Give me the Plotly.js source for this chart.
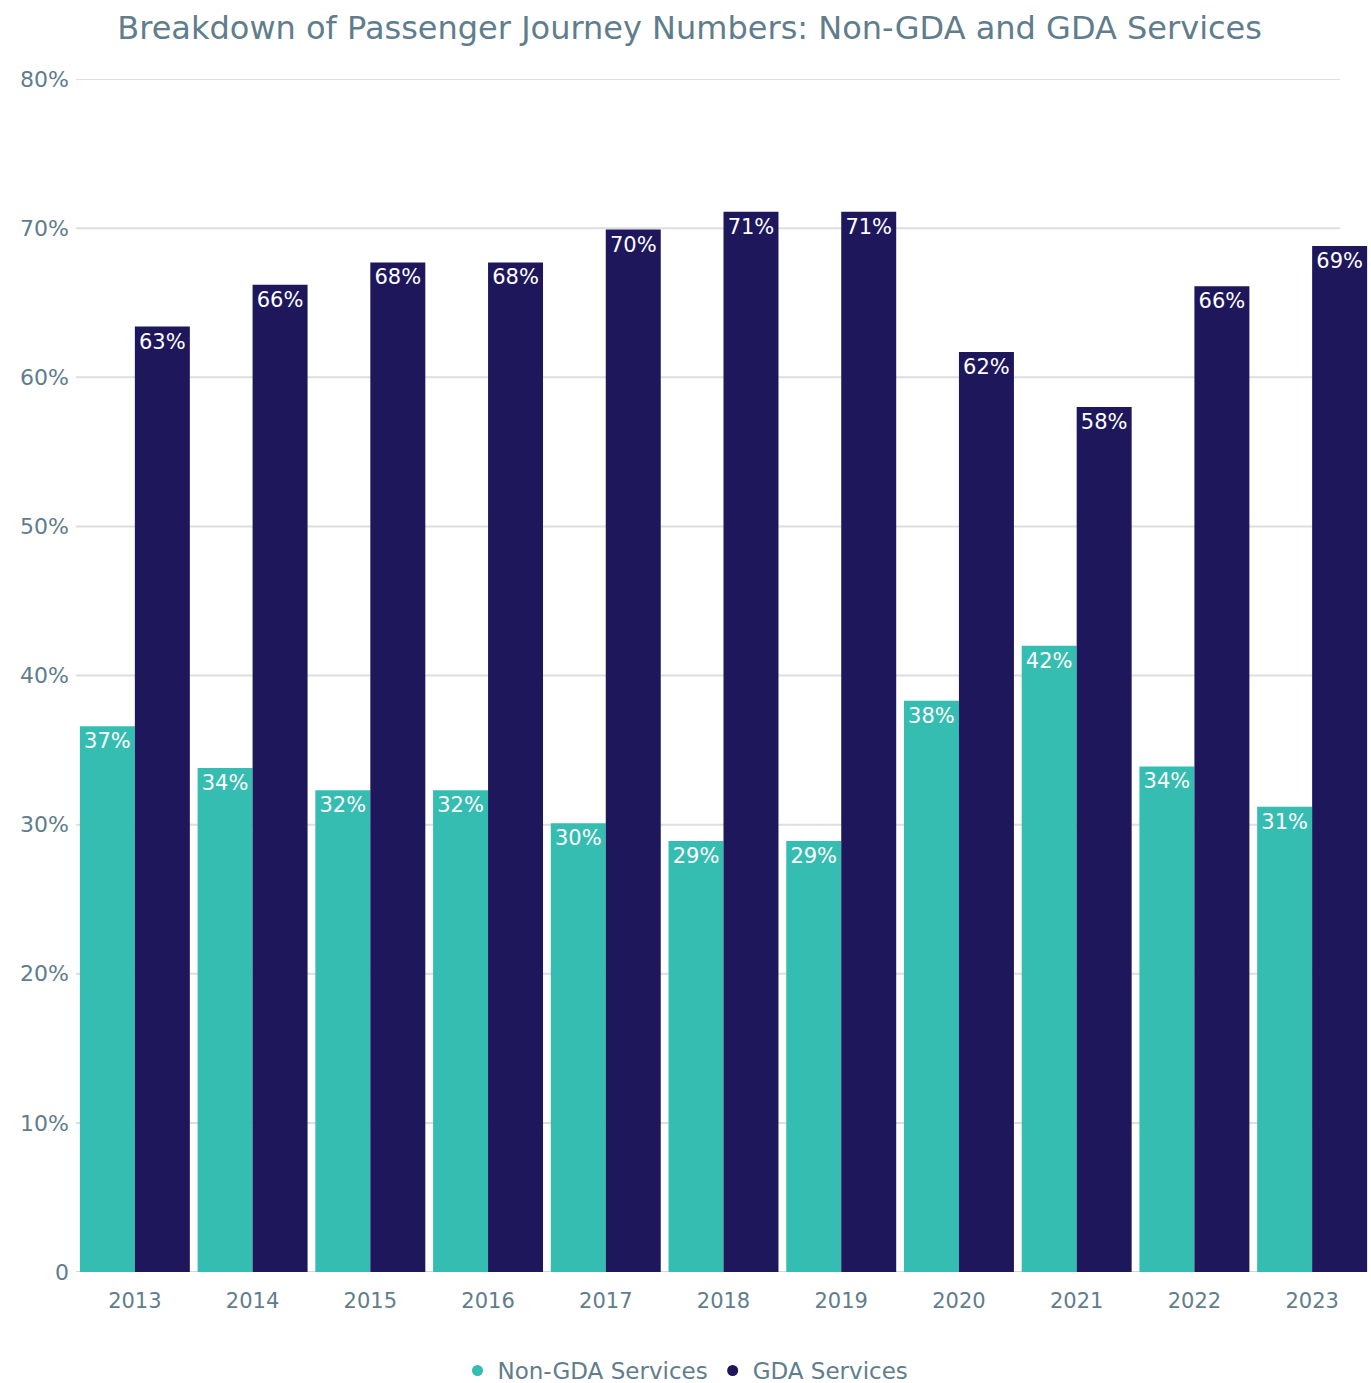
<!DOCTYPE html>
<html>
<head>
<meta charset="utf-8">
<script src="https://cdn.plot.ly/plotly-3.0.1.min.js"></script>
<style>html,body{margin:0;padding:0;background:#fff;}#chart{width:1371px;height:1383px;}</style>
</head>
<body>
<div id="chart"></div>
<script>
const years = ['2013','2014','2015','2016','2017','2018','2019','2020','2021','2022','2023'];
const nonGda = [36.6, 33.8, 32.3, 32.3, 30.1, 28.9, 28.9, 38.3, 42.0, 33.9, 31.2];
const gda    = [63.4, 66.2, 67.7, 67.7, 69.9, 71.1, 71.1, 61.7, 58.0, 66.1, 68.8];
const yTickVals = [0, 10, 20, 30, 40, 50, 60, 70, 80];
const yTickText = ['0', '10%', '20%', '30%', '40%', '50%', '60%', '70%', '80%'];
const seriesNames = ['Non-GDA Services', 'GDA Services'];

const FONT = '"DejaVu Sans", "Open Sans", sans-serif';
const GREY = '#5f7d8c';
const TEAL = '#36bdb1';
const NAVY = '#1e175c';

const barCommon = {
  type: 'bar',
  x: years,
  texttemplate: '%{y:.0f}%',
  textposition: 'inside',
  insidetextanchor: 'end',
  constraintext: 'none',
  textangle: 0,
  textfont: {family: FONT, size: 21, color: '#ffffff'},
  hoverinfo: 'x+y',
  showlegend: false,
  cliponaxis: false
};

const traces = [
  Object.assign({}, barCommon, {y: nonGda, name: seriesNames[0], marker: {color: TEAL}}),
  Object.assign({}, barCommon, {y: gda, name: seriesNames[1], marker: {color: NAVY}}),
  {type: 'scatter', mode: 'markers', x: [null], y: [null], name: seriesNames[0],
   marker: {color: TEAL, size: 11, symbol: 'circle'}, showlegend: true, hoverinfo: 'skip'},
  {type: 'scatter', mode: 'markers', x: [null], y: [null], name: seriesNames[1],
   marker: {color: NAVY, size: 11, symbol: 'circle'}, showlegend: true, hoverinfo: 'skip'}
];

const gridEnd = (1340 - 76) / 1295;
const shapes = yTickVals.map(v => ({
  type: 'line', xref: 'paper', yref: 'y', x0: 0, x1: gridEnd, y0: v, y1: v,
  line: {color: v === 0 ? '#d6d6d6' : '#dedede', width: 2}, layer: 'below'
}));

const layout = {
  width: 1371, height: 1383,
  margin: {l: 76, r: 0, t: 79, b: 111, autoexpand: false},
  paper_bgcolor: '#ffffff', plot_bgcolor: '#ffffff',
  font: {family: FONT, color: GREY, size: 21},
  title: {text: 'Breakdown of Passenger Journey Numbers: Non-GDA and GDA Services',
          font: {family: FONT, size: 32, color: GREY}, x: 0.503, xanchor: 'center',
          yref: 'container', y: 0.98, yanchor: 'middle'},
  barmode: 'group', bargap: 0.066, bargroupgap: 0,
  xaxis: {type: 'category', showgrid: false, zeroline: false, showline: false, ticks: '',
          tickfont: {family: FONT, size: 21, color: GREY}, ticklabelstandoff: 14, fixedrange: true},
  yaxis: {range: [0, 80], showgrid: false, zeroline: false, showline: false, ticks: '',
          tickvals: yTickVals, ticktext: yTickText, tickfont: {family: FONT, size: 22, color: GREY},
          ticklabelstandoff: 6, fixedrange: true},
  shapes: shapes,
  legend: {orientation: 'h', xref: 'container', x: 0.5, xanchor: 'center', yref: 'container', y: 0.009, yanchor: 'middle',
           font: {family: FONT, size: 23, color: GREY}, itemwidth: 30, tracegroupgap: 0},
  showlegend: true
};

Plotly.newPlot('chart', traces, layout, {displayModeBar: false, staticPlot: true});
</script>
</body>
</html>
